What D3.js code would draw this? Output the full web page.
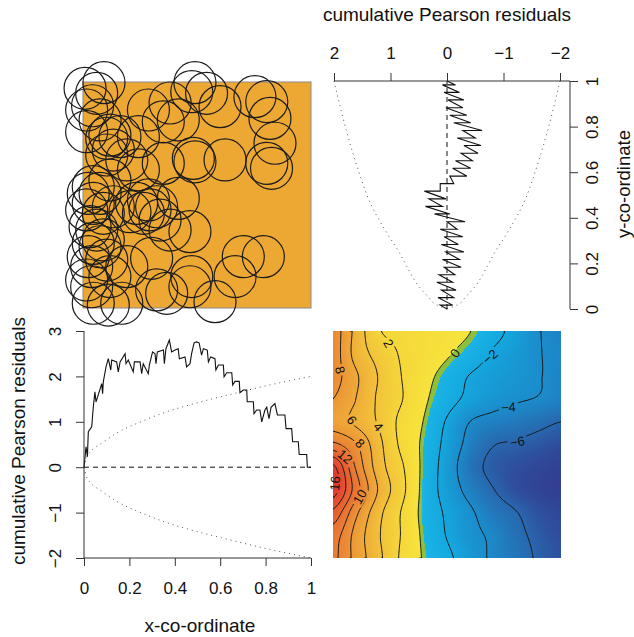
<!DOCTYPE html>
<html>
<head>
<meta charset="utf-8">
<script src="https://cdn.jsdelivr.net/npm/d3@7"></script>
<style>
  body { margin: 0; background: #fff; }
  svg { display: block; }
</style>
</head>
<body>
<div id="chart"></div>
<script>
// data points of the pattern (unit square)
const pointsX = [0.009, 0.092, 0.016, 0.042, 0.491, 0.382, 0.287, 0.542, 0.601, 0.477, 0.754, 0.806, 0.820, 0.352, 0.418,
  0.016, 0.104, 0.118, 0.243, 0.162, 0.104, 0.243, 0.352, 0.484, 0.491, 0.623, 0.842, 0.806, 0.827, 0.118,
  0.023, 0.016, 0.045, 0.089, 0.133, 0.206, 0.287, 0.294, 0.323, 0.418, 0.338, 0.469, 0.060, 0.089, 0.023,
  0.038, 0.016, 0.038, 0.301, 0.477, 0.469, 0.579, 0.367, 0.323, 0.170, 0.111, 0.045, 0.667, 0.703, 0.791,
  0.192, 0.382, 0.045, 0.075, 0.031, 0.075, 0.045, 0.104, 0.118, 0.235, 0.265, 0.133, 0.192, 0.075, 0.060];
const pointsY = [0.972, 0.997, 0.876, 0.895, 0.997, 0.907, 0.876, 0.950, 0.891, 0.957, 0.935, 0.913, 0.839, 0.824, 0.832,
  0.780, 0.751, 0.765, 0.758, 0.758, 0.677, 0.611, 0.640, 0.662, 0.647, 0.655, 0.729, 0.640, 0.618, 0.566,
  0.507, 0.434, 0.463, 0.419, 0.448, 0.426, 0.478, 0.434, 0.448, 0.485, 0.389, 0.338, 0.345, 0.301, 0.227,
  0.183, 0.124, 0.094, 0.220, 0.139, 0.094, 0.028, 0.065, 0.080, 0.021, 0.013, 0.021, 0.139, 0.227, 0.227,
  0.183, 0.345, 0.537, 0.507, 0.360, 0.271, 0.286, 0.212, 0.139, 0.463, 0.419, 0.699, 0.655, 0.832, 0.950];

// lurking variable plot against x
const lurkX = [0, 0.009, 0.015, 0.019, 0.034, 0.041, 0.048, 0.053, 0.067, 0.078, 0.082, 0.085, 0.097, 0.107, 0.118,
  0.122, 0.144, 0.151, 0.159, 0.181, 0.185, 0.195, 0.217, 0.222, 0.247, 0.254, 0.261, 0.283, 0.288, 0.302,
  0.313, 0.317, 0.323, 0.350, 0.354, 0.361, 0.376, 0.386, 0.401, 0.415, 0.420, 0.445, 0.452, 0.467, 0.474,
  0.485, 0.496, 0.507, 0.518, 0.526, 0.543, 0.548, 0.558, 0.577, 0.581, 0.592, 0.614, 0.617, 0.629, 0.651,
  0.655, 0.665, 0.684, 0.687, 0.702, 0.717, 0.719, 0.746, 0.749, 0.761, 0.775, 0.783, 0.797, 0.805, 0.815,
  0.824, 0.841, 0.852, 0.885, 0.890, 0.915, 0.919, 0.944, 0.948, 0.981, 0.984, 1.0];
const lurkXRes = [0, 0.45, 0.23, 0.78, 0.89, 1.33, 1.66, 1.44, 1.66, 1.84, 1.62, 1.88, 2.21, 2.39, 2.14,
  2.36, 2.32, 2.10, 2.32, 2.50, 2.28, 2.36, 2.10, 2.32, 2.32, 2.06, 2.28, 2.06, 2.25, 2.54,
  2.50, 2.28, 2.54, 2.58, 2.28, 2.61, 2.80, 2.54, 2.58, 2.61, 2.39, 2.43, 2.21, 2.28, 2.50,
  2.74, 2.76, 2.74, 2.47, 2.61, 2.58, 2.32, 2.43, 2.39, 2.14, 2.25, 2.25, 1.99, 2.08, 2.08,
  1.81, 1.89, 1.89, 1.64, 1.70, 1.70, 1.44, 1.44, 1.18, 1.26, 1.26, 1.00, 1.26, 1.32, 1.07,
  1.32, 1.40, 1.15, 1.15, 0.85, 0.85, 0.56, 0.56, 0.28, 0.28, 0.00, 0.00];
const envX = [0, 0.01, 0.03, 0.07, 0.15, 0.25, 0.364, 0.5, 0.65, 0.8, 1.0];
const envXVal = [0, 0.2, 0.35, 0.5, 0.77, 1.0, 1.22, 1.42, 1.61, 1.79, 2.0];

// lurking variable plot against y
const lurkY = [0, 0.017, 0.017, 0.050, 0.050, 0.083, 0.083, 0.117, 0.117, 0.150, 0.150, 0.183, 0.183, 0.217, 0.217,
  0.250, 0.250, 0.283, 0.283, 0.317, 0.317, 0.350, 0.350, 0.383, 0.383, 0.417, 0.417, 0.450, 0.450, 0.483, 0.483,
  0.517, 0.517, 0.550, 0.550, 0.583, 0.583, 0.617, 0.617, 0.650, 0.650, 0.683, 0.683, 0.717, 0.717, 0.750, 0.750,
  0.783, 0.783, 0.817, 0.817, 0.850, 0.850, 0.883, 0.883, 0.917, 0.917, 0.950, 0.950, 0.983, 0.983, 1.0];
const lurkYRes = [0, 0.12, -0.10, 0.16, -0.12, 0.10, -0.16, 0.18, -0.10, 0.14, -0.14, 0.05, -0.25, 0.08, -0.22,
  0.02, -0.30, 0.10, -0.20, 0.05, -0.28, 0.12, -0.18, 0.00, -0.32, 0.22, -0.05, 0.38, 0.08, 0.32, 0.02,
  0.40, 0.12, 0.12, -0.12, -0.05, -0.35, -0.10, -0.42, -0.15, -0.45, -0.25, -0.55, -0.30, -0.60, -0.18, -0.50,
  -0.28, -0.62, -0.12, -0.42, -0.05, -0.35, 0.02, -0.28, -0.02, -0.30, 0.05, -0.22, 0.08, -0.15, 0.0];
const envY = [0, 0.02, 0.05, 0.1, 0.186, 0.25, 0.332, 0.45, 0.624, 0.8, 1.0];
const envYVal = [0, 0.2, 0.32, 0.5, 0.71, 0.85, 1.06, 1.33, 1.59, 1.80, 2.0];

// smoothed residual field, rows from y=1 (top) down to y=0, columns x=0..1
const residGrid = [
  [9.0, 5.4, 2.2, 1.5, 1.0, 0.6, 0.05, -1.3, -2.6, -3.9, -4.4],
  [9.0, 5.3, 3.3, 1.8, 1.0, 0.2, -0.8, -2.2, -3.0, -3.9, -4.3],
  [8.8, 6.3, 3.9, 2.0, 0.6, -0.7, -2.1, -2.8, -3.3, -3.9, -4.4],
  [8.0, 6.0, 3.7, 2.1, 0.3, -1.2, -2.5, -3.3, -3.8, -4.1, -4.6],
  [7.0, 5.6, 3.8, 1.5, -0.1, -2.2, -4.0, -4.6, -5.0, -5.5, -6.0],
  [10.5, 8.2, 4.6, 1.6, -0.4, -2.6, -4.6, -5.9, -6.2, -6.6, -7.0],
  [16.5, 9.8, 5.0, 2.3, -0.5, -2.9, -5.2, -6.4, -6.9, -7.2, -7.4],
  [17.0, 11.0, 5.8, 2.6, -0.6, -2.8, -4.6, -5.9, -6.9, -7.3, -7.5],
  [13.5, 8.5, 4.6, 1.9, -0.6, -2.3, -3.7, -5.0, -5.9, -6.8, -7.2],
  [11.0, 7.3, 4.2, 1.9, -0.4, -2.1, -3.5, -4.3, -5.5, -6.4, -7.0],
  [10.5, 7.3, 4.5, 1.7, -0.2, -1.6, -3.0, -4.3, -5.2, -6.2, -6.8]
];
const contourLevels = [-6, -4, -2, 0, 2, 4, 6, 8, 10, 12, 14, 16];
const labelText = ["2", "0", "\u22122", "\u22124", "\u22126", "8", "6", "4", "8", "12", "16", "10"];
const labelU = [0.243, 0.535, 0.689, 0.769, 0.808, 0.031, 0.082, 0.199, 0.118, 0.053, 0.009, 0.118];
const labelV = [0.946, 0.902, 0.887, 0.664, 0.512, 0.828, 0.608, 0.578, 0.505, 0.446, 0.329, 0.270];
const labelAngle = [60, -53, -40, -3, -10, 75, 55, 50, 45, 40, -85, -60];

const residTicksTop = [2, 1, 0, -1, -2];
const residTicksLeft = [-2, -1, 0, 1, 2, 3];
const coordTicks = [0, 0.2, 0.4, 0.6, 0.8, 1];

const font = '"Liberation Sans", Arial, Helvetica, sans-serif';
const fmtNum = d => (d < 0 ? "\u2212" + Math.abs(d) : String(d));

const svg = d3.select("#chart").append("svg").attr("width", 634).attr("height", 637)
    .attr("font-family", font);

// scales for the four panels
const mx = d3.scaleLinear().domain([0, 1]).range([83, 311]);
const my = d3.scaleLinear().domain([0, 1]).range([308, 82]);
const rx = d3.scaleLinear().domain([2, -2]).range([334, 560]);
const ry = d3.scaleLinear().domain([0, 1]).range([309, 81]);
const bx = d3.scaleLinear().domain([0, 1]).range([84, 311]);
const by = d3.scaleLinear().domain([-2, 3]).range([558, 331]);
const sx = d3.scaleLinear().domain([0, 1]).range([333, 561]);
const sy = d3.scaleLinear().domain([0, 1]).range([558, 331]);

// ---- top left: marks
svg.append("rect")
    .attr("x", mx(0)).attr("y", my(1))
    .attr("width", mx(1) - mx(0)).attr("height", my(0) - my(1))
    .attr("fill", "#eda733").attr("stroke", "#8a8a8a").attr("stroke-width", 1);

svg.selectAll("circle.pt")
    .data(d3.zip(pointsX, pointsY))
    .join("circle")
    .attr("class", "pt")
    .attr("cx", d => mx(d[0]))
    .attr("cy", d => my(d[1]))
    .attr("r", 21)
    .attr("fill", "none")
    .attr("stroke", "#1c1c1c")
    .attr("stroke-width", 1.2);

// ---- top right: lurking variable plot against y
const envLineY = sign => d3.line()
    .x(d => rx(sign * d[1])).y(d => ry(d[0]))
    .curve(d3.curveMonotoneY);
[1, -1].forEach(s => {
    svg.append("path")
        .attr("d", envLineY(s)(d3.zip(envY, envYVal)))
        .attr("fill", "none").attr("stroke", "#555")
        .attr("stroke-width", 1).attr("stroke-dasharray", "1 4");
});
svg.append("line")
    .attr("x1", rx(0)).attr("x2", rx(0)).attr("y1", ry(0)).attr("y2", ry(1))
    .attr("stroke", "#111").attr("stroke-dasharray", "5 4");
svg.append("path")
    .attr("d", d3.line().x(d => rx(d[1])).y(d => ry(d[0]))(d3.zip(lurkY, lurkYRes)))
    .attr("fill", "none").attr("stroke", "#111").attr("stroke-width", 1.1);

const topAxis = svg.append("g")
    .attr("transform", `translate(0,${ry(1)})`)
    .call(d3.axisTop(rx).tickValues(residTicksTop).tickSize(8).tickPadding(14).tickFormat(fmtNum));
topAxis.select(".domain").remove();
topAxis.selectAll("text").attr("font-size", 17).attr("font-family", font).attr("fill", "#111");
topAxis.selectAll("line").attr("stroke", "#333");
svg.append("line")
    .attr("x1", rx(2)).attr("x2", 570).attr("y1", ry(1)).attr("y2", ry(1))
    .attr("stroke", "#333");

const rightAxis = svg.append("g")
    .attr("transform", "translate(570,0)")
    .call(d3.axisRight(ry).tickValues(coordTicks).tickSize(8).tickFormat(""));
rightAxis.select(".domain").remove();
rightAxis.selectAll("line").attr("stroke", "#333");
rightAxis.selectAll(".tick").append("text")
    .attr("transform", "translate(22,0) rotate(-90)")
    .attr("text-anchor", "middle").attr("dy", "0.35em")
    .attr("font-size", 17).attr("font-family", font).attr("fill", "#111")
    .text(fmtNum);
svg.append("line")
    .attr("x1", 570).attr("x2", 570).attr("y1", ry(1)).attr("y2", ry(0))
    .attr("stroke", "#333");

svg.append("text")
    .attr("x", rx(0)).attr("y", 21)
    .attr("text-anchor", "middle").attr("font-size", 19).attr("fill", "#111")
    .text("cumulative Pearson residuals");
svg.append("text")
    .attr("transform", "translate(629.5,184) rotate(-90)")
    .attr("text-anchor", "middle").attr("font-size", 18.5).attr("fill", "#111")
    .text("y-co-ordinate");

// ---- bottom left: lurking variable plot against x
const envLineX = sign => d3.line()
    .x(d => bx(d[0])).y(d => by(sign * d[1]))
    .curve(d3.curveMonotoneX);
[1, -1].forEach(s => {
    svg.append("path")
        .attr("d", envLineX(s)(d3.zip(envX, envXVal)))
        .attr("fill", "none").attr("stroke", "#555")
        .attr("stroke-width", 1).attr("stroke-dasharray", "1 4");
});
svg.append("line")
    .attr("x1", bx(0)).attr("x2", bx(1)).attr("y1", by(0)).attr("y2", by(0))
    .attr("stroke", "#111").attr("stroke-dasharray", "5 4");
svg.append("path")
    .attr("d", d3.line().x(d => bx(d[0])).y(d => by(d[1]))(d3.zip(lurkX, lurkXRes)))
    .attr("fill", "none").attr("stroke", "#111").attr("stroke-width", 1.1);

const leftAxis = svg.append("g")
    .attr("transform", `translate(${bx(0)},0)`)
    .call(d3.axisLeft(by).tickValues(residTicksLeft).tickSize(8).tickFormat(""));
leftAxis.select(".domain").remove();
leftAxis.selectAll("line").attr("stroke", "#333");
leftAxis.selectAll(".tick").append("text")
    .attr("transform", "translate(-29,0) rotate(-90)")
    .attr("text-anchor", "middle").attr("dy", "0.35em")
    .attr("font-size", 17).attr("font-family", font).attr("fill", "#111")
    .text(fmtNum);
svg.append("line")
    .attr("x1", bx(0)).attr("x2", bx(0)).attr("y1", by(3)).attr("y2", by(-2))
    .attr("stroke", "#333");

const bottomAxis = svg.append("g")
    .attr("transform", `translate(0,${by(-2)})`)
    .call(d3.axisBottom(bx).tickValues(coordTicks).tickSize(8).tickPadding(16).tickFormat(fmtNum));
bottomAxis.select(".domain").remove();
bottomAxis.selectAll("text").attr("font-size", 17).attr("font-family", font).attr("fill", "#111");
bottomAxis.selectAll("line").attr("stroke", "#333");
svg.append("line")
    .attr("x1", bx(0)).attr("x2", bx(1)).attr("y1", by(-2)).attr("y2", by(-2))
    .attr("stroke", "#333");

svg.append("text")
    .attr("x", 200).attr("y", 632)
    .attr("text-anchor", "middle").attr("font-size", 19).attr("fill", "#111")
    .text("x-co-ordinate");
svg.append("text")
    .attr("transform", "translate(25,441) rotate(-90)")
    .attr("text-anchor", "middle").attr("font-size", 19).attr("fill", "#111")
    .text("cumulative Pearson residuals");

// ---- bottom right: smoothed residual field
function catmull(p0, p1, p2, p3, t) {
    return p1 + 0.5 * t * (p2 - p0 + t * (2 * p0 - 5 * p1 + 4 * p2 - p3 + t * (3 * (p1 - p2) + p3 - p0)));
}
function fieldAt(u, v) {
    const nr = residGrid.length, nc = residGrid[0].length;
    const gx = Math.max(0, Math.min(nc - 1, u * (nc - 1)));
    const gy = Math.max(0, Math.min(nr - 1, (1 - v) * (nr - 1)));
    const c = Math.min(nc - 2, Math.floor(gx)), r = Math.min(nr - 2, Math.floor(gy));
    const tx = gx - c, ty = gy - r;
    const at = (rr, cc) => residGrid[Math.max(0, Math.min(nr - 1, rr))][Math.max(0, Math.min(nc - 1, cc))];
    const rowVal = rr => catmull(at(rr, c - 1), at(rr, c), at(rr, c + 1), at(rr, c + 2), tx);
    return catmull(rowVal(r - 1), rowVal(r), rowVal(r + 1), rowVal(r + 2), ty);
}

const landColour = d3.scaleLinear()
    .domain([0, 2, 4, 6, 8, 12, 17])
    .range(["#f7e43c", "#f5d63a", "#f2c23a", "#efab38", "#ec9536", "#e76b33", "#df392e"])
    .clamp(true);
const seaColour = d3.scaleLinear()
    .domain([-0.35, -2, -4, -6, -7.5])
    .range(["#1ab4e6", "#14a8de", "#1b8ccb", "#2867ae", "#323f92"])
    .clamp(true);
const beachColour = "#8dbe3c";
const fieldColour = z => (z >= 0 ? landColour(z) : z > -0.35 ? beachColour : seaColour(z));

const imgW = Math.round(sx(1) - sx(0)), imgH = Math.round(sy(0) - sy(1));
const canvas = document.createElement("canvas");
canvas.width = imgW;
canvas.height = imgH;
const ctx = canvas.getContext("2d");
const img = ctx.createImageData(imgW, imgH);
for (let j = 0; j < imgH; j++) {
    for (let i = 0; i < imgW; i++) {
        const c = d3.rgb(fieldColour(fieldAt((i + 0.5) / imgW, 1 - (j + 0.5) / imgH)));
        const k = 4 * (j * imgW + i);
        img.data[k] = c.r;
        img.data[k + 1] = c.g;
        img.data[k + 2] = c.b;
        img.data[k + 3] = 255;
    }
}
ctx.putImageData(img, 0, 0);
svg.append("image")
    .attr("x", sx(0)).attr("y", sy(1))
    .attr("width", imgW).attr("height", imgH)
    .attr("preserveAspectRatio", "none")
    .attr("href", canvas.toDataURL());

const n = 96;
const samples = new Array(n * n);
for (let j = 0; j < n; j++) {
    for (let i = 0; i < n; i++) samples[j * n + i] = fieldAt(i / (n - 1), 1 - j / (n - 1));
}
const contours = d3.contours().size([n, n]).thresholds(contourLevels)(samples);
const clamp01 = t => Math.max(0, Math.min(1, t));
const toPx = p => [sx(clamp01((p[0] - 0.5) / (n - 1))), sy(1 - clamp01((p[1] - 0.5) / (n - 1)))];
const onEdge = p => p[0] === 0 || p[0] === n || p[1] === 0 || p[1] === n;

function contourPath(multi) {
    let d = "";
    multi.coordinates.forEach(poly => poly.forEach(ring => {
        let pen = false;
        for (let k = 0; k < ring.length - 1; k++) {
            const a = ring[k], b = ring[k + 1];
            if (onEdge(a) && onEdge(b)) { pen = false; continue; }
            const pa = toPx(a), pb = toPx(b);
            if (!pen) { d += `M${pa[0].toFixed(2)},${pa[1].toFixed(2)}`; pen = true; }
            d += `L${pb[0].toFixed(2)},${pb[1].toFixed(2)}`;
        }
    }));
    return d;
}

const labels = labelText.map((t, i) => ({ t, u: labelU[i], v: labelV[i], a: labelAngle[i] }));

const mask = svg.append("defs").append("mask").attr("id", "lblmask")
    .attr("maskUnits", "userSpaceOnUse")
    .attr("x", 0).attr("y", 0).attr("width", 634).attr("height", 637);
mask.append("rect").attr("x", 0).attr("y", 0).attr("width", 634).attr("height", 637).attr("fill", "#fff");
mask.selectAll("rect.hole")
    .data(labels)
    .join("rect")
    .attr("class", "hole")
    .attr("x", d => -(d.t.length * 7.6 + 4) / 2)
    .attr("y", -6.5)
    .attr("width", d => d.t.length * 7.6 + 4)
    .attr("height", 13)
    .attr("transform", d => `translate(${sx(d.u)},${sy(d.v)}) rotate(${d.a})`)
    .attr("fill", "#000");

svg.append("defs").append("clipPath").attr("id", "imgclip")
    .append("rect").attr("x", sx(0)).attr("y", sy(1))
    .attr("width", sx(1) - sx(0)).attr("height", sy(0) - sy(1));

svg.append("g")
    .attr("clip-path", "url(#imgclip)")
    .append("g")
    .attr("mask", "url(#lblmask)")
    .selectAll("path")
    .data(contours)
    .join("path")
    .attr("d", contourPath)
    .attr("fill", "none")
    .attr("stroke", "#1a1a1a")
    .attr("stroke-width", 1);

svg.selectAll("text.clab")
    .data(labels)
    .join("text")
    .attr("class", "clab")
    .attr("transform", d => `translate(${sx(d.u)},${sy(d.v)}) rotate(${d.a})`)
    .attr("text-anchor", "middle")
    .attr("dy", "0.35em")
    .attr("font-size", 13)
    .attr("fill", "#111")
    .text(d => d.t);
</script>
</body>
</html>
